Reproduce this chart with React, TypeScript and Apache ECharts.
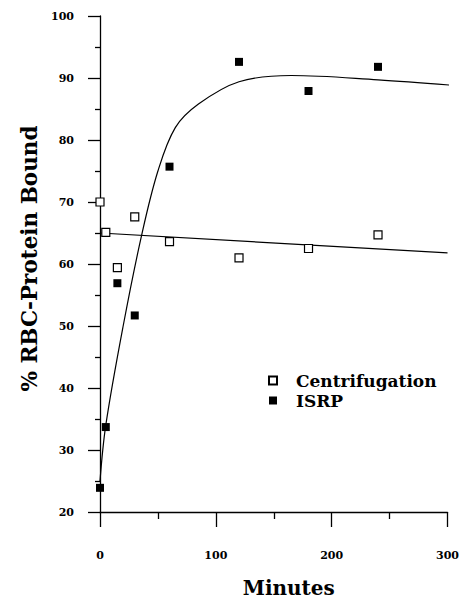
import React, { useEffect, useRef } from "react";
import * as echarts from "echarts";

// Scatter data
const minutes = [0, 5, 15, 30, 60, 120, 180, 240];
const centrifugation = [70.0, 65.1, 59.4, 67.6, 63.6, 61.0, 62.5, 64.7];
const isrp = [23.9, 33.7, 56.9, 51.7, 75.7, 92.6, 87.9, 91.8];

// Fitted lines
const centFitX = [0, 300];
const centFitY = [65.0, 61.8];
const isrpFitX = [0, 5, 20, 36, 50, 65, 85, 120, 165, 240, 306];
const isrpFitY = [25, 34, 50, 64.7, 75, 82, 85.8, 89.4, 90.4, 89.7, 88.8];

const xTicks = [0, 100, 200, 300];
const yTicks = [20, 30, 40, 50, 60, 70, 80, 90, 100];

const serif = "'DejaVu Serif', 'Liberation Serif', serif";

export default function App() {
  const ref = useRef<HTMLDivElement>(null);
  useEffect(() => {
    if (!ref.current) return;
    const chart = echarts.init(ref.current, null, { renderer: "svg" });
    const pair = (xs: number[], ys: number[]) => xs.map((x, i) => [x, ys[i]]);
    chart.setOption({
      animation: false,
      backgroundColor: "#ffffff",
      grid: { left: 100, right: 10, top: 16, bottom: 90, containLabel: false },
      legend: {
        left: 263,
        top: 367,
        orient: "vertical",
        itemWidth: 8,
        itemHeight: 8,
        itemGap: 3,
        data: ["Centrifugation", "ISRP"],
        textStyle: {
          fontFamily: serif,
          fontWeight: "bold",
          fontSize: 17,
          lineHeight: 15,
          color: "#000",
          padding: [0, 0, 0, 14],
        },
      },
      xAxis: {
        type: "value",
        min: xTicks[0],
        max: xTicks[xTicks.length - 1],
        interval: 100,
        name: "Minutes",
        nameLocation: "middle",
        nameGap: 66,
        nameTextStyle: { fontFamily: serif, fontWeight: "bold", fontSize: 20, color: "#000", padding: [0, 0, 0, 30] },
        axisLine: { onZero: false, lineStyle: { color: "#000", width: 1.3 } },
        axisTick: { show: true, length: 15, lineStyle: { color: "#000", width: 1.3 } },
        minorTick: { show: true, splitNumber: 2, length: 7, lineStyle: { color: "#000", width: 1.3 } },
        axisLabel: { fontFamily: serif, fontWeight: "bold", fontSize: 11, color: "#000", margin: 38 },
        splitLine: { show: false },
      },
      yAxis: {
        type: "value",
        min: yTicks[0],
        max: yTicks[yTicks.length - 1],
        interval: 10,
        name: "% RBC-Protein Bound",
        nameLocation: "middle",
        nameGap: 58,
        nameTextStyle: { fontFamily: serif, fontWeight: "bold", fontSize: 21.5, color: "#000", padding: [0, 0, 0, 11] },
        axisLine: { onZero: false, lineStyle: { color: "#000", width: 1.3 } },
        axisTick: { show: true, length: 12, lineStyle: { color: "#000", width: 1.3 } },
        minorTick: { show: true, splitNumber: 2, length: 5, lineStyle: { color: "#000", width: 1.3 } },
        axisLabel: { fontFamily: serif, fontWeight: "bold", fontSize: 11, color: "#000", margin: 26 },
        splitLine: { show: false },
      },
      series: [
        {
          name: "centFit",
          type: "line",
          data: pair(centFitX, centFitY),
          showSymbol: false,
          symbol: "none",
          lineStyle: { color: "#000", width: 1.2 },
          z: 1,
        },
        {
          name: "isrpFit",
          type: "line",
          data: pair(isrpFitX, isrpFitY),
          smooth: 0.35,
          showSymbol: false,
          symbol: "none",
          clip: false,
          lineStyle: { color: "#000", width: 1.2 },
          z: 1,
        },
        {
          name: "Centrifugation",
          type: "scatter",
          data: pair(minutes, centrifugation),
          symbol: "rect",
          symbolSize: 8,
          itemStyle: { color: "#fff", borderColor: "#000", borderWidth: 1.2, opacity: 1 },
          z: 3,
        },
        {
          name: "ISRP",
          type: "scatter",
          data: pair(minutes, isrp),
          symbol: "rect",
          symbolSize: 8,
          itemStyle: { color: "#000", opacity: 1 },
          z: 3,
        },
      ],
    });
    return () => chart.dispose();
  }, []);
  return (
    <div
      ref={ref}
      style={{ position: "fixed", left: 0, top: 0, width: 462, height: 603, background: "#fff" }}
    />
  );
}
